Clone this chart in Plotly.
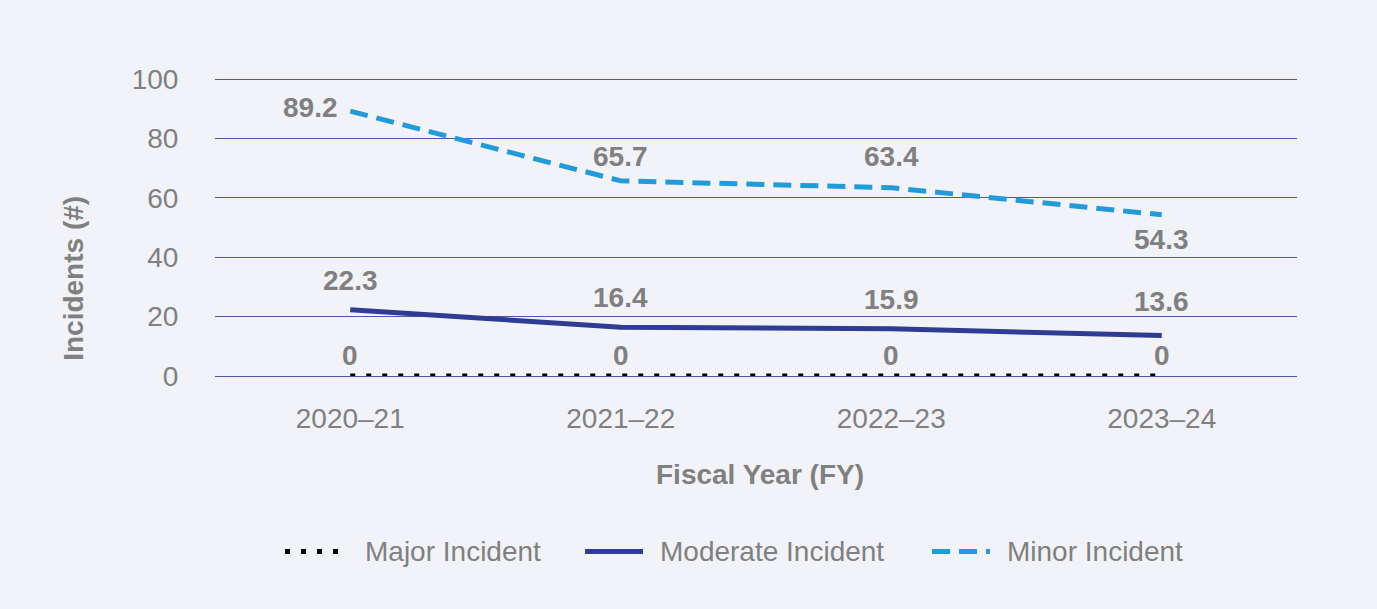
import plotly.graph_objects as go

# Incident counts by fiscal year
fiscal_years = ["2020–21", "2021–22", "2022–23", "2023–24"]
major_incidents = [0, 0, 0, 0]
moderate_incidents = [22.3, 16.4, 15.9, 13.6]
minor_incidents = [89.2, 65.7, 63.4, 54.3]

series_names = ["Major Incident", "Moderate Incident", "Minor Incident"]
y_ticks = [0, 20, 40, 60, 80, 100]

BG = "#f2f3f8"
GRID = "#4f59aa"
TEXT = "#808080"
FONT = "Arial, Liberation Sans, sans-serif"
FS = 28

styles = {
    "Major Incident": dict(color="#000000", width=5, dash="5px,11px"),
    "Moderate Incident": dict(color="#2f3c94", width=5, dash="solid"),
    "Minor Incident": dict(color="#239bd9", width=5, dash="18px,9px"),
}

# where each value label sits relative to its point, and its pixel gap
label_pos = {
    "Major Incident": [("top", 3)] * 4,
    "Moderate Incident": [("top", 12), ("top", 12), ("top", 12), ("top", 17)],
    "Minor Incident": [("left", 10), ("top", 7), ("top", 14), ("bottom", 7)],
}

data = {
    "Major Incident": major_incidents,
    "Moderate Incident": moderate_incidents,
    "Minor Incident": minor_incidents,
}

fig = go.Figure()
annotations = []

for name in series_names:
    vals = data[name]
    fig.add_trace(go.Scatter(
        x=fiscal_years, y=vals, name=name, mode="lines",
        line=dict(**styles[name]), showlegend=False, cliponaxis=False,
    ))
    for xv, yv, (pos, gap) in zip(fiscal_years, vals, label_pos[name]):
        a = dict(x=xv, y=yv, xref="x", yref="y", text=f"<b>{yv:g}</b>",
                 showarrow=False, font=dict(family=FONT, size=FS, color=TEXT))
        if pos == "top":
            a.update(xanchor="center", yanchor="bottom", yshift=gap)
        elif pos == "bottom":
            a.update(xanchor="center", yanchor="top", yshift=-gap)
        else:
            a.update(xanchor="right", yanchor="middle", xshift=-gap, yshift=4)
        annotations.append(a)

# axis titles
annotations.append(dict(
    x=-0.131, y=0.327, xref="paper", yref="paper", text="<b>Incidents (#)</b>",
    textangle=-90, showarrow=False, xanchor="center", yanchor="middle",
    font=dict(family=FONT, size=FS, color=TEXT)))
annotations.append(dict(
    x=0.504, y=-0.33, xref="paper", yref="paper", text="<b>Fiscal Year (FY)</b>",
    showarrow=False, xanchor="center", yanchor="middle",
    font=dict(family=FONT, size=FS, color=TEXT)))

# legend row: symbol segments and labels
legend_y = -0.589
legend_items = [
    (0.0647, 0.1229, 0.1368),
    (0.3420, 0.3956, 0.4094),
    (0.6627, 0.7163, 0.7301),
]
shapes = []
for name, (sx0, sx1, tx) in zip(series_names, legend_items):
    st = styles[name]
    shapes.append(dict(type="line", xref="paper", yref="paper",
                       x0=sx0, x1=sx1, y0=legend_y, y1=legend_y,
                       line=dict(color=st["color"], width=st["width"], dash=st["dash"])))
    annotations.append(dict(
        x=tx, y=legend_y, xref="paper", yref="paper", text=name,
        showarrow=False, xanchor="left", yanchor="middle",
        font=dict(family=FONT, size=FS, color=TEXT)))

fig.update_layout(
    width=1377, height=609,
    margin=dict(l=215, r=80, t=78, b=233),
    paper_bgcolor=BG, plot_bgcolor=BG,
    font=dict(family=FONT, size=FS, color=TEXT),
    showlegend=False,
    annotations=annotations,
    shapes=shapes,
    xaxis=dict(
        type="category", range=[-0.5, 3.5], showgrid=False, zeroline=False,
        showline=False, ticks="outside", ticklen=17, tickcolor="rgba(0,0,0,0)",
        tickfont=dict(family=FONT, size=FS, color=TEXT),
    ),
    yaxis=dict(
        range=[0, 100.34], tickvals=y_ticks, showgrid=True, gridcolor=GRID, gridwidth=1,
        zeroline=True, zerolinecolor=GRID, zerolinewidth=1, showline=False,
        ticks="outside", ticklen=30, tickcolor="rgba(0,0,0,0)",
        tickfont=dict(family=FONT, size=FS, color=TEXT),
    ),
)

fig.write_html("out.html")
